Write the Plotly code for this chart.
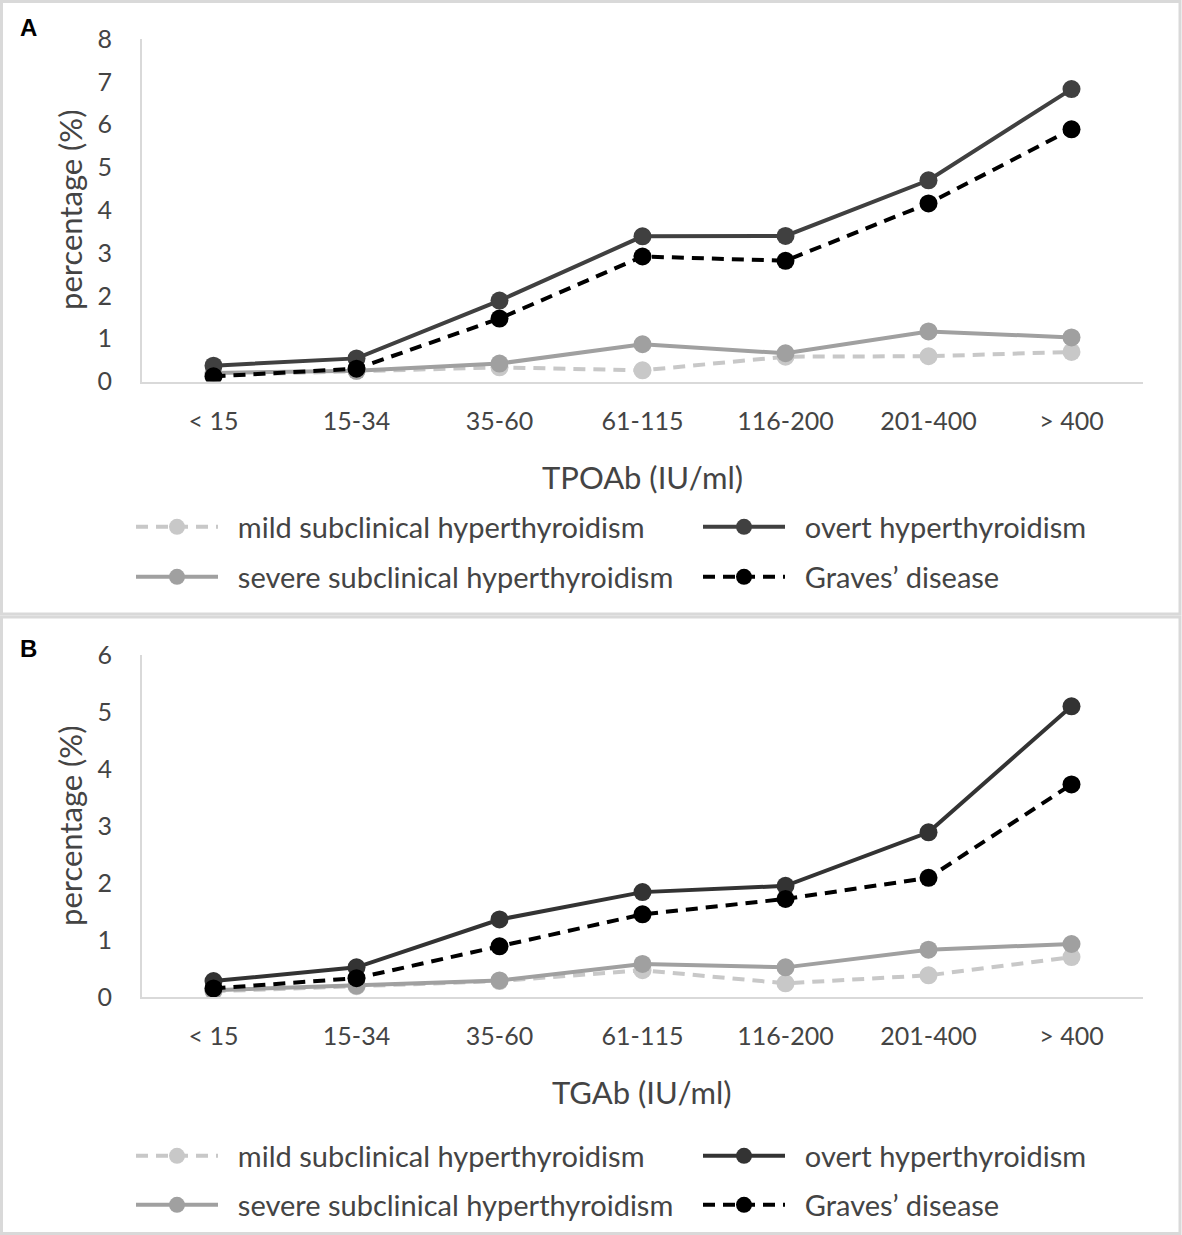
import plotly.graph_objects as go

categories = ["< 15", "15-34", "35-60", "61-115", "116-200", "201-400", "> 400"]

# Panel A (TPOAb)
a_mild = [0.15, 0.25, 0.33, 0.26, 0.58, 0.59, 0.69]
a_overt = [0.37, 0.54, 1.89, 3.39, 3.40, 4.70, 6.83]
a_severe = [0.20, 0.25, 0.42, 0.87, 0.66, 1.17, 1.03]
a_graves = [0.12, 0.30, 1.47, 2.92, 2.82, 4.16, 5.89]

# Panel B (TGAb)
b_mild = [0.10, 0.19, 0.28, 0.47, 0.24, 0.38, 0.70]
b_overt = [0.28, 0.52, 1.36, 1.84, 1.95, 2.89, 5.10]
b_severe = [0.12, 0.20, 0.29, 0.58, 0.52, 0.83, 0.93]
b_graves = [0.15, 0.33, 0.89, 1.45, 1.72, 2.09, 3.73]

names = ["mild subclinical hyperthyroidism", "overt hyperthyroidism",
         "severe subclinical hyperthyroidism", "Graves\u2019 disease"]

W, H = 1182, 1235
FONT = "Lato"
TXT = "#444444"


def px(x):
    return x / W


def py(y):
    return 1 - y / H


fig = go.Figure()

styles = {
    "mild": dict(color="#c8c8c8", dash="12px,8px"),
    "severe": dict(color="#a0a0a0", dash="solid"),
    "overt": dict(color="#404040", dash="solid"),
    "graves": dict(color="#000000", dash="12px,8px"),
}

panels = [
    ("x", "y", {"mild": a_mild, "severe": a_severe, "overt": a_overt, "graves": a_graves}, 1, 527, 577),
    ("x2", "y2", {"mild": b_mild, "severe": b_severe, "overt": b_overt, "graves": b_graves}, 5, 1156, 1205),
]
name_of = {"mild": names[0], "overt": names[1], "severe": names[2], "graves": names[3]}
legend_slot = {"mild": (0, 0), "overt": (1, 0), "severe": (0, 1), "graves": (1, 1)}
col_x = [136, 703]
NB = "\u00a0\u00a0"

layout_legends = {}
for xa, ya, data, leg0, row1, row2 in panels:
    for key in ["mild", "severe", "overt", "graves"]:
        st = styles[key]
        col, row = legend_slot[key]
        idx = leg0 + col + 2 * row
        lname = "legend" if idx == 1 else f"legend{idx}"
        color = st["color"]
        if key == "overt" and xa == "x2":
            color = "#333333"
        fig.add_trace(go.Scatter(
            x=categories, y=data[key], xaxis=xa, yaxis=ya,
            mode="lines+markers", name=NB + name_of[key], legend=lname,
            line=dict(color=color, width=4, dash=st["dash"]),
            marker=dict(color=color, size=18, line=dict(width=0)),
        ))
        layout_legends[lname] = dict(
            x=px(col_x[col] - 5), y=py(row1 if row == 0 else row2),
            xanchor="left", yanchor="middle", orientation="h",
            bgcolor="rgba(0,0,0,0)", itemwidth=82,
            font=dict(family=FONT, size=29, color=TXT),
        )

xdom = [px(142), px(1143)]
axis_common = dict(showline=True, linecolor="#d9d9d9", linewidth=2, showgrid=False,
                   zeroline=False, automargin=False,
                   tickfont=dict(family=FONT, size=25, color=TXT))

fig.update_layout(
    width=W, height=H, margin=dict(l=0, r=0, t=0, b=0, pad=0, autoexpand=False),
    plot_bgcolor="white", paper_bgcolor="white", showlegend=True,
    xaxis=dict(domain=xdom, anchor="y", type="category", range=[-0.5, 6.5],
               ticks="outside", ticklen=16, tickcolor="rgba(0,0,0,0)", **axis_common),
    yaxis=dict(domain=[py(381.5), py(39)], anchor="x", range=[0, 8], tickvals=list(range(9)),
               ticks="outside", ticklen=23, tickcolor="rgba(0,0,0,0)", **axis_common),
    xaxis2=dict(domain=xdom, anchor="y2", type="category", range=[-0.5, 6.5],
                ticks="outside", ticklen=16, tickcolor="rgba(0,0,0,0)", **axis_common),
    yaxis2=dict(domain=[py(997), py(655)], anchor="x2", range=[0, 6], tickvals=list(range(7)),
                ticks="outside", ticklen=23, tickcolor="rgba(0,0,0,0)", **axis_common),
    **layout_legends,
)

ann_font = dict(family=FONT, size=31, color=TXT)
annotations = [
    dict(text="percentage (%)", x=px(70), y=py(210), textangle=-90, font=ann_font),
    dict(text="percentage (%)", x=px(70), y=py(826), textangle=-90, font=ann_font),
    dict(text="TPOAb (IU/ml)", x=px(642), y=py(477), font=ann_font),
    dict(text="TGAb (IU/ml)", x=px(642), y=py(1092), font=ann_font),
    dict(text="<b>A</b>", x=px(28), y=py(27), font=dict(family="Liberation Sans", size=24, color="#000000")),
    dict(text="<b>B</b>", x=px(28), y=py(648), font=dict(family="Liberation Sans", size=24, color="#000000")),
]
for a in annotations:
    a.update(xref="paper", yref="paper", showarrow=False, xanchor="center", yanchor="middle")
fig.update_layout(annotations=annotations)

fig.add_shape(type="rect", xref="paper", yref="paper", x0=px(1.5), x1=px(1180), y0=py(614), y1=py(1.5),
              line=dict(color="#d9d9d9", width=3))
fig.add_shape(type="rect", xref="paper", yref="paper", x0=px(1.5), x1=px(1180), y0=py(1233.5), y1=py(617),
              line=dict(color="#d9d9d9", width=3))

fig.write_html("out.html", config={"displayModeBar": False},
               post_script="document.body.style.margin='0';document.body.style.overflow='hidden';")
